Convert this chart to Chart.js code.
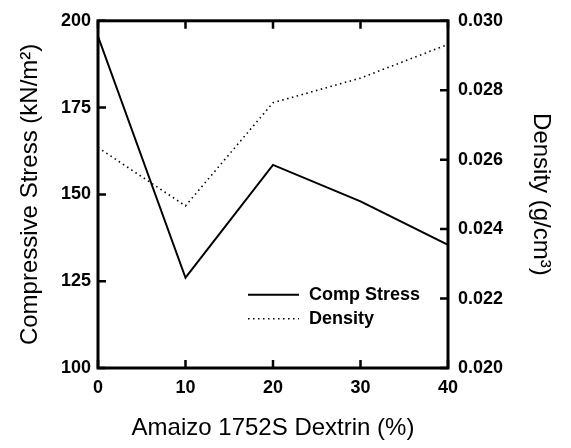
<!DOCTYPE html>
<html>
<head>
<meta charset="utf-8">
<script src="https://cdn.jsdelivr.net/npm/chart.js@4.4.1/dist/chart.umd.min.js"></script>
<style>
  html, body { margin: 0; padding: 0; background: #fff; }
  #wrap { width: 571px; height: 448px; }
</style>
</head>
<body>
<div id="wrap"><canvas id="chart"></canvas></div>
<script>
// data
const dextrinPct = [0, 10, 20, 30, 40];
const compStress = [195.5, 126, 158.5, 148, 135.5];
const density = [0.02635, 0.02467, 0.02764, 0.02835, 0.02932];
const seriesNames = ["Comp Stress", "Density"];
const xTickValues = [0, 10, 20, 30, 40];

const FONT = "'Liberation Sans', Arial, Helvetica, sans-serif";

const pts = (ys) => dextrinPct.map((x, i) => ({ x: x, y: ys[i] }));

// frame, inward ticks, and the in-plot legend
const framePlugin = {
  id: "frame",
  afterDatasetsDraw(chart) {
    const { ctx, chartArea: a, scales } = chart;
    const tick = 8;
    ctx.save();
    ctx.strokeStyle = "#000";
    ctx.lineWidth = 3;
    ctx.strokeRect(a.left, a.top, a.right - a.left, a.bottom - a.top);

    ctx.lineWidth = 2.5;
    ctx.beginPath();
    scales.x.ticks.forEach((t) => {
      const px = scales.x.getPixelForValue(t.value);
      ctx.moveTo(px, a.bottom); ctx.lineTo(px, a.bottom - tick);
      ctx.moveTo(px, a.top); ctx.lineTo(px, a.top + tick);
    });
    scales.y.ticks.forEach((t) => {
      const py = scales.y.getPixelForValue(t.value);
      ctx.moveTo(a.left, py); ctx.lineTo(a.left + tick, py);
    });
    scales.y2.ticks.forEach((t) => {
      const py = scales.y2.getPixelForValue(t.value);
      ctx.moveTo(a.right, py); ctx.lineTo(a.right - tick, py);
    });
    ctx.stroke();

    // legend inside the plot, lower right
    const lx0 = a.left + 150, lx1 = a.left + 201, tx = a.left + 211;
    const rows = [a.top + 274, a.top + 298];
    ctx.font = "bold 18px " + FONT;
    ctx.fillStyle = "#000";
    ctx.textBaseline = "middle";
    chart.data.datasets.forEach((ds, i) => {
      ctx.beginPath();
      ctx.lineWidth = ds.borderWidth;
      ctx.setLineDash(ds.borderDash || []);
      ctx.moveTo(lx0, rows[i]);
      ctx.lineTo(lx1, rows[i]);
      ctx.stroke();
      ctx.setLineDash([]);
      ctx.fillText(ds.label, tx, rows[i]);
    });
    ctx.restore();
  }
};

const tickFont = { family: FONT, size: 18, weight: "bold" };
const titleFont = { family: FONT, size: 24 };

new Chart(document.getElementById("chart"), {
  type: "line",
  data: {
    datasets: [
      {
        label: seriesNames[0],
        data: pts(compStress),
        yAxisID: "y",
        borderColor: "#000",
        borderWidth: 2,
        pointRadius: 0,
        tension: 0
      },
      {
        label: seriesNames[1],
        data: pts(density),
        yAxisID: "y2",
        borderColor: "#000",
        borderWidth: 1.6,
        borderDash: [1.5, 3.5],
        pointRadius: 0,
        tension: 0
      }
    ]
  },
  options: {
    responsive: true,
    maintainAspectRatio: false,
    animation: false,
    layout: { padding: { top: 16, left: 0, right: 0, bottom: 0 } },
    plugins: {
      legend: { display: false },
      tooltip: { enabled: false }
    },
    scales: {
      x: {
        type: "linear",
        min: 0,
        max: 40,
        afterBuildTicks: (s) => { s.ticks = xTickValues.map((v) => ({ value: v })); },
        afterFit: (s) => { s.height = 80; },
        grid: { display: false, drawTicks: false },
        border: { display: false },
        ticks: { color: "#000", padding: 9, font: tickFont },
        title: {
          display: true,
          text: "Amaizo 1752S Dextrin (%)",
          color: "#000",
          padding: { top: 0, bottom: 5 },
          font: titleFont
        }
      },
      y: {
        position: "left",
        min: 100,
        max: 200,
        afterFit: (s) => { s.width = 98; },
        grid: { display: false, drawTicks: false },
        border: { display: false },
        ticks: { stepSize: 25, color: "#000", padding: 7, font: tickFont },
        title: {
          display: true,
          text: "Compressive Stress (kN/m²)",
          color: "#000",
          padding: { top: 16, bottom: 0 },
          font: titleFont
        }
      },
      y2: {
        position: "right",
        min: 0.020,
        max: 0.030,
        afterFit: (s) => { s.width = 123; },
        grid: { display: false, drawTicks: false },
        border: { display: false },
        ticks: {
          stepSize: 0.002,
          color: "#000",
          padding: 10,
          font: tickFont,
          callback: (v) => v.toFixed(3)
        },
        title: {
          display: true,
          text: "Density (g/cm³)",
          color: "#000",
          padding: { top: 16, bottom: 0 },
          font: titleFont
        }
      }
    }
  },
  plugins: [framePlugin]
});
</script>
</body>
</html>
